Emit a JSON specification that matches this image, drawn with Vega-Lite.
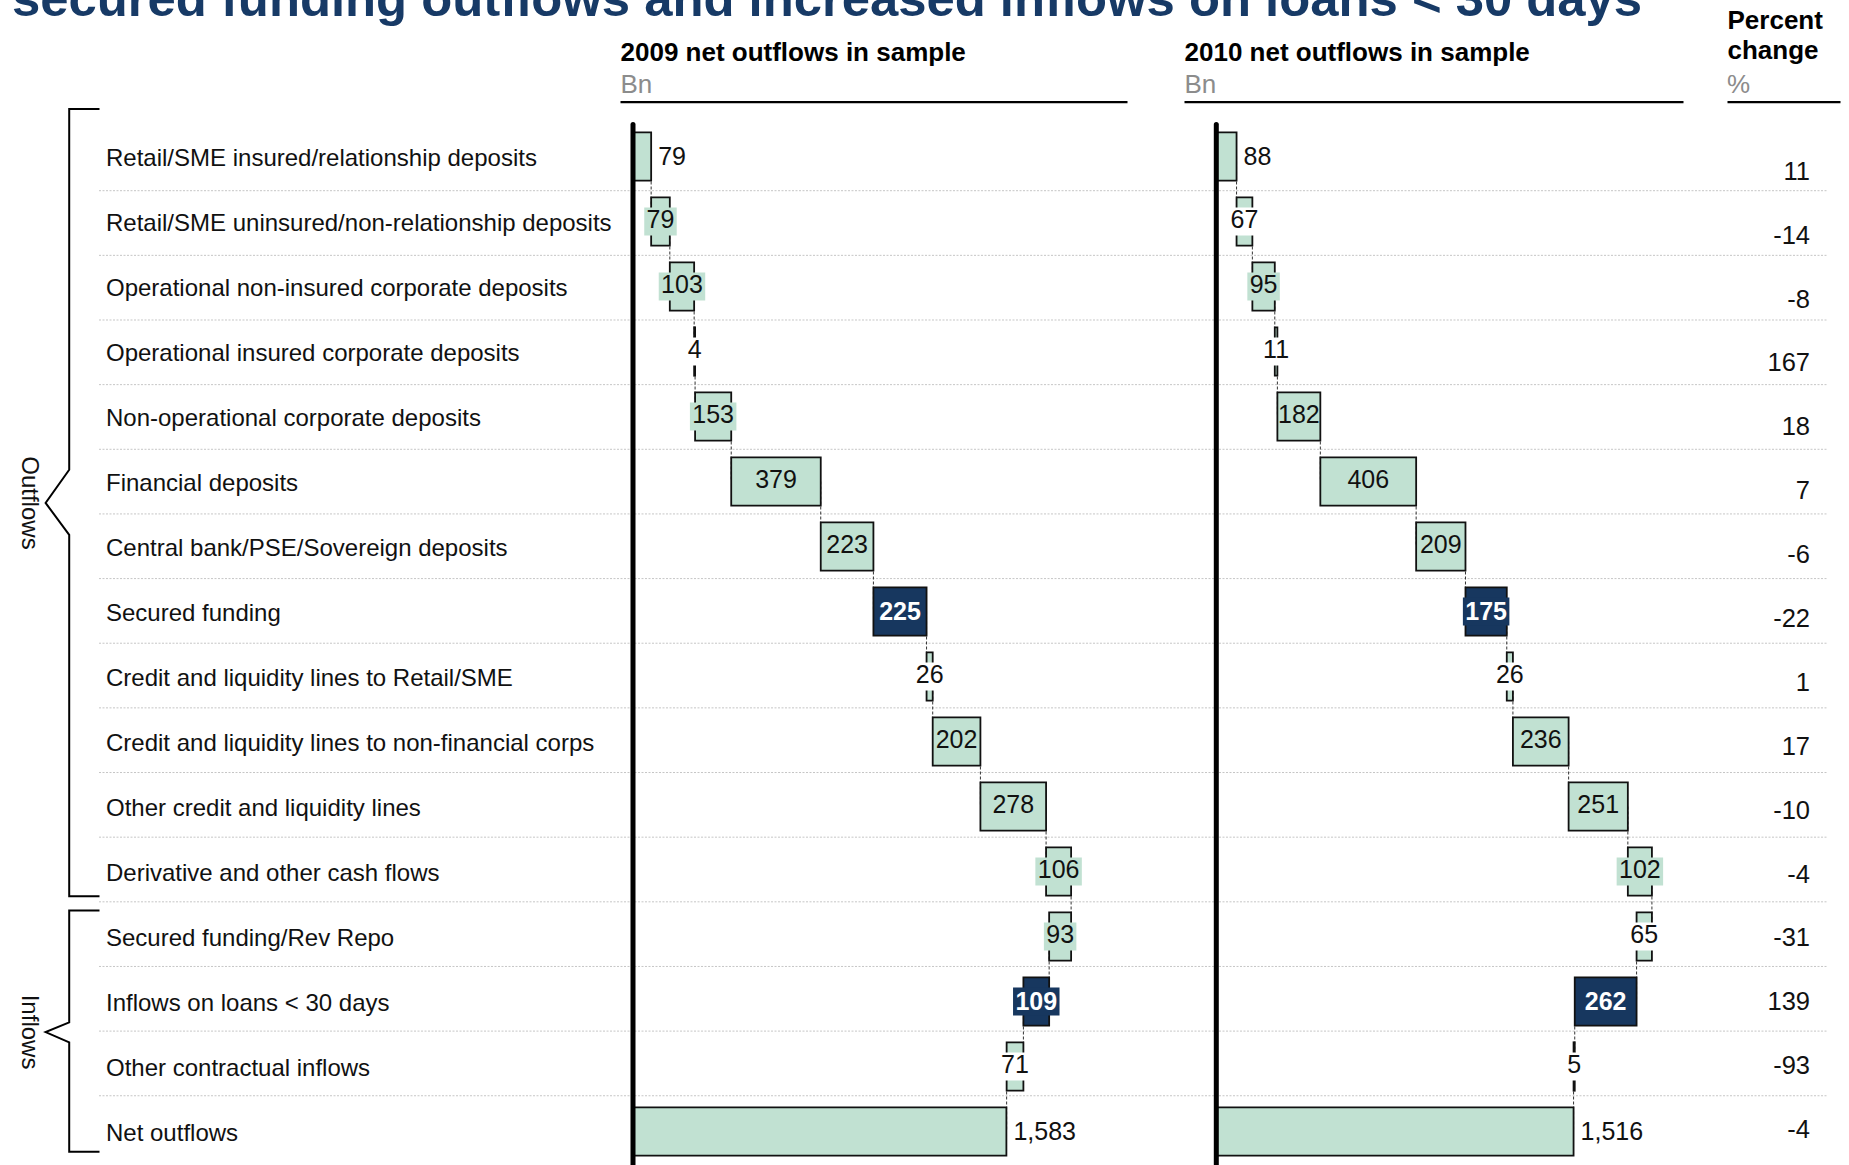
{
  "$schema": "https://vega.github.io/schema/vega-lite/v6.json",
  "width": 1849,
  "height": 1165,
  "autosize": {"type": "none"},
  "padding": 0,
  "title": {
    "text": "secured funding outflows and increased inflows on loans < 30 days",
    "anchor": "start",
    "frame": "group",
    "fontSize": 50.8,
    "fontWeight": "bold",
    "font": "Liberation Sans",
    "color": "#173a66",
    "baseline": "alphabetic",
    "offset": 0,
    "dx": 12,
    "dy": 67
  },
  "config": {
    "view": {"stroke": null},
    "font": "Liberation Sans",
    "axis": {"labelFont": "Liberation Sans", "titleFont": "Liberation Sans"},
    "text": {"font": "Liberation Sans"}
  },
  "data": {
    "values": [
      {"cat": "Retail/SME insured/relationship deposits", "flow": "Outflows", "v09": 79, "from09": 0, "to09": 79, "v10": 88, "from10": 0, "to10": 88, "pct": 11, "focus": false},
      {"cat": "Retail/SME uninsured/non-relationship deposits", "flow": "Outflows", "v09": 79, "from09": 79, "to09": 158, "v10": 67, "from10": 88, "to10": 155, "pct": -14, "focus": false},
      {"cat": "Operational non-insured corporate deposits", "flow": "Outflows", "v09": 103, "from09": 158, "to09": 261, "v10": 95, "from10": 155, "to10": 250, "pct": -8, "focus": false},
      {"cat": "Operational insured corporate deposits", "flow": "Outflows", "v09": 4, "from09": 261, "to09": 265, "v10": 11, "from10": 250, "to10": 261, "pct": 167, "focus": false},
      {"cat": "Non-operational corporate deposits", "flow": "Outflows", "v09": 153, "from09": 265, "to09": 418, "v10": 182, "from10": 261, "to10": 443, "pct": 18, "focus": false},
      {"cat": "Financial deposits", "flow": "Outflows", "v09": 379, "from09": 418, "to09": 797, "v10": 406, "from10": 443, "to10": 849, "pct": 7, "focus": false},
      {"cat": "Central bank/PSE/Sovereign deposits", "flow": "Outflows", "v09": 223, "from09": 797, "to09": 1020, "v10": 209, "from10": 849, "to10": 1058, "pct": -6, "focus": false},
      {"cat": "Secured funding", "flow": "Outflows", "v09": 225, "from09": 1020, "to09": 1245, "v10": 175, "from10": 1058, "to10": 1233, "pct": -22, "focus": true},
      {"cat": "Credit and liquidity lines to Retail/SME", "flow": "Outflows", "v09": 26, "from09": 1245, "to09": 1271, "v10": 26, "from10": 1233, "to10": 1259, "pct": 1, "focus": false},
      {"cat": "Credit and liquidity lines to non-financial corps", "flow": "Outflows", "v09": 202, "from09": 1271, "to09": 1473, "v10": 236, "from10": 1259, "to10": 1495, "pct": 17, "focus": false},
      {"cat": "Other credit and liquidity lines", "flow": "Outflows", "v09": 278, "from09": 1473, "to09": 1751, "v10": 251, "from10": 1495, "to10": 1746, "pct": -10, "focus": false},
      {"cat": "Derivative and other cash flows", "flow": "Outflows", "v09": 106, "from09": 1751, "to09": 1857, "v10": 102, "from10": 1746, "to10": 1848, "pct": -4, "focus": false},
      {"cat": "Secured funding/Rev Repo", "flow": "Inflows", "v09": 93, "from09": 1857, "to09": 1764, "v10": 65, "from10": 1848, "to10": 1783, "pct": -31, "focus": false},
      {"cat": "Inflows on loans < 30 days", "flow": "Inflows", "v09": 109, "from09": 1764, "to09": 1655, "v10": 262, "from10": 1783, "to10": 1521, "pct": 139, "focus": true},
      {"cat": "Other contractual inflows", "flow": "Inflows", "v09": 71, "from09": 1655, "to09": 1584, "v10": 5, "from10": 1521, "to10": 1516, "pct": -93, "focus": false},
      {"cat": "Net outflows", "flow": "Net", "v09": 1583, "from09": 0, "to09": 1583, "v10": 1516, "from10": 0, "to10": 1516, "pct": -4, "focus": false}
    ]
  },
  "layer": [
    {
      "transform": [{"filter": "datum.cat != 'Retail/SME insured/relationship deposits'"}],
      "mark": {"type": "rule", "color": "#c6c6c6", "strokeWidth": 1, "strokeDash": [2, 1.5]},
      "encoding": {
        "x": {"datum": 0, "type": "quantitative", "scale": {"domain": [0, 1], "range": [99, 1828], "nice": false, "zero": false}, "axis": null},
        "x2": {"datum": 1},
        "y": {
          "field": "cat", "type": "nominal", "bandPosition": 0,
          "scale": {"type": "band", "domain": ["Retail/SME uninsured/non-relationship deposits", "Operational non-insured corporate deposits", "Operational insured corporate deposits", "Non-operational corporate deposits", "Financial deposits", "Central bank/PSE/Sovereign deposits", "Secured funding", "Credit and liquidity lines to Retail/SME", "Credit and liquidity lines to non-financial corps", "Other credit and liquidity lines", "Derivative and other cash flows", "Secured funding/Rev Repo", "Inflows on loans < 30 days", "Other contractual inflows", "Net outflows"], "range": [190.7, 1160.4], "paddingInner": 0, "paddingOuter": 0},
          "axis": null
        }
      }
    },
    {
      "encoding": {
        "y": {
          "field": "cat", "type": "nominal",
          "scale": {"type": "band", "domain": ["Retail/SME insured/relationship deposits", "Retail/SME uninsured/non-relationship deposits", "Operational non-insured corporate deposits", "Operational insured corporate deposits", "Non-operational corporate deposits", "Financial deposits", "Central bank/PSE/Sovereign deposits", "Secured funding", "Credit and liquidity lines to Retail/SME", "Credit and liquidity lines to non-financial corps", "Other credit and liquidity lines", "Derivative and other cash flows", "Secured funding/Rev Repo", "Inflows on loans < 30 days", "Other contractual inflows", "Net outflows"], "range": [124, 1164], "paddingInner": 0.255, "paddingOuter": 0.1275},
          "axis": {"orient": "left", "offset": -632.5, "zindex": 1, "domain": true, "domainColor": "#000000", "domainWidth": 5, "domainCap": "round", "ticks": false, "tickSize": 0, "labelPadding": 527, "labelOffset": 2.4, "labelAlign": "left", "labelBaseline": "middle", "labelFontSize": 24, "labelColor": "#111111", "labelLimit": 0, "labelBound": false, "labelOverlap": false, "grid": false, "title": null}
        }
      },
      "layer": [
        {
          "transform": [{"window": [{"op": "lead", "field": "cat", "as": "nextcat"}]}, {"filter": "datum.nextcat != null"}],
          "mark": {"type": "rule", "color": "#333333", "strokeWidth": 1, "strokeDash": [3, 2]},
          "encoding": {
            "x": {"field": "to09", "type": "quantitative"},
            "y2": {"field": "nextcat"}
          }
        },
        {
          "mark": {"type": "bar", "stroke": "#111111", "strokeWidth": 1.8},
          "encoding": {
            "x": {
              "field": "from09", "type": "quantitative",
              "scale": {"domain": [-52.9, 2093.6], "range": [620, 1127], "nice": false, "zero": false},
              "axis": {"orient": "top", "offset": -101.7, "values": [-52.9], "labelExpr": "'Bn'", "labelAlign": "left", "labelBaseline": "alphabetic", "labelPadding": 9.4, "labelFontSize": 26, "labelColor": "#8c8c8c", "labelFlush": false, "labelBound": false, "labelOverlap": false, "labelAngle": 0, "ticks": false, "tickSize": 0, "grid": false, "domain": true, "domainColor": "#000000", "domainWidth": 2.2, "title": "2009 net outflows in sample", "titleFontSize": 26, "titleFontWeight": "bold", "titleColor": "#000000", "titleAnchor": "start", "titleAlign": "left", "titleBaseline": "alphabetic", "titleY": -41}
            },
            "x2": {"field": "to09"},
            "fill": {"condition": {"test": "datum.focus", "value": "#17375f"}, "value": "#c1e1d2"}
          }
        },
        {
          "transform": [
            {"filter": "datum.from09 > 0"},
            {"fold": ["from09", "to09"], "as": ["edge", "pos"]},
            {"aggregate": [{"op": "mean", "field": "pos", "as": "mid"}], "groupby": ["cat", "v09", "focus"]}
          ],
          "layer": [
            {
              "transform": [{"filter": "datum.v09 < 180"}],
              "mark": {"type": "point", "filled": true, "opacity": 1, "strokeWidth": 0, "size": 784},
              "encoding": {
                "x": {"field": "mid", "type": "quantitative"},
                "shape": {"condition": [{"test": "datum.v09 >= 100", "value": "M-1.66,-1H1.66V1H-1.66Z"}, {"test": "datum.v09 >= 10", "value": "M-1.16,-1H1.16V1H-1.16Z"}], "value": "M-0.7,-1H0.7V1H-0.7Z"},
                "fill": {"condition": [{"test": "datum.v09 < 75", "value": "#ffffff"}, {"test": "datum.focus", "value": "#17375f"}], "value": "#c1e1d2"}
              }
            },
            {
              "transform": [{"filter": "!datum.focus"}],
              "mark": {"type": "text", "fontSize": 25, "color": "#111111", "align": "center", "baseline": "middle", "dy": -1.5},
              "encoding": {
                "x": {"field": "mid", "type": "quantitative"},
                "text": {"field": "v09", "type": "quantitative", "format": ",d"}
              }
            },
            {
              "transform": [{"filter": "datum.focus"}],
              "mark": {"type": "text", "fontSize": 25, "fontWeight": "bold", "color": "#ffffff", "align": "center", "baseline": "middle"},
              "encoding": {
                "x": {"field": "mid", "type": "quantitative"},
                "text": {"field": "v09", "type": "quantitative", "format": ",d"}
              }
            }
          ]
        },
        {
          "transform": [{"filter": "datum.from09 == 0"}],
          "mark": {"type": "text", "fontSize": 25, "color": "#111111", "align": "left", "baseline": "middle", "dx": 7},
          "encoding": {
            "x": {"field": "to09", "type": "quantitative"},
            "text": {"field": "v09", "type": "quantitative", "format": ",d"}
          }
        }
      ]
    },
    {
      "encoding": {
        "y": {
          "field": "cat", "type": "nominal",
          "scale": {"type": "band", "domain": ["Retail/SME insured/relationship deposits", "Retail/SME uninsured/non-relationship deposits", "Operational non-insured corporate deposits", "Operational insured corporate deposits", "Non-operational corporate deposits", "Financial deposits", "Central bank/PSE/Sovereign deposits", "Secured funding", "Credit and liquidity lines to Retail/SME", "Credit and liquidity lines to non-financial corps", "Other credit and liquidity lines", "Derivative and other cash flows", "Secured funding/Rev Repo", "Inflows on loans < 30 days", "Other contractual inflows", "Net outflows"], "range": [124, 1164], "paddingInner": 0.255, "paddingOuter": 0.1275},
          "axis": {"orient": "left", "offset": -1215.8, "zindex": 1, "domain": true, "domainColor": "#000000", "domainWidth": 5, "domainCap": "round", "ticks": false, "labels": false, "grid": false, "title": null}
        }
      },
      "layer": [
        {
          "transform": [{"window": [{"op": "lead", "field": "cat", "as": "nextcat"}]}, {"filter": "datum.nextcat != null"}],
          "mark": {"type": "rule", "color": "#333333", "strokeWidth": 1, "strokeDash": [3, 2]},
          "encoding": {
            "x": {"field": "to10", "type": "quantitative"},
            "y2": {"field": "nextcat"}
          }
        },
        {
          "mark": {"type": "bar", "stroke": "#111111", "strokeWidth": 1.8},
          "encoding": {
            "x": {
              "field": "from10", "type": "quantitative",
              "scale": {"domain": [-134.7, 1979.7], "range": [1184, 1683], "nice": false, "zero": false},
              "axis": {"orient": "top", "offset": -101.7, "values": [-134.7], "labelExpr": "'Bn'", "labelAlign": "left", "labelBaseline": "alphabetic", "labelPadding": 9.4, "labelFontSize": 26, "labelColor": "#8c8c8c", "labelFlush": false, "labelBound": false, "labelOverlap": false, "labelAngle": 0, "ticks": false, "tickSize": 0, "grid": false, "domain": true, "domainColor": "#000000", "domainWidth": 2.2, "title": "2010 net outflows in sample", "titleFontSize": 26, "titleFontWeight": "bold", "titleColor": "#000000", "titleAnchor": "start", "titleAlign": "left", "titleBaseline": "alphabetic", "titleY": -41}
            },
            "x2": {"field": "to10"},
            "fill": {"condition": {"test": "datum.focus", "value": "#17375f"}, "value": "#c1e1d2"}
          }
        },
        {
          "transform": [
            {"filter": "datum.from10 > 0"},
            {"fold": ["from10", "to10"], "as": ["edge", "pos"]},
            {"aggregate": [{"op": "mean", "field": "pos", "as": "mid"}], "groupby": ["cat", "v10", "focus"]}
          ],
          "layer": [
            {
              "transform": [{"filter": "datum.v10 < 180"}],
              "mark": {"type": "point", "filled": true, "opacity": 1, "strokeWidth": 0, "size": 784},
              "encoding": {
                "x": {"field": "mid", "type": "quantitative"},
                "shape": {"condition": [{"test": "datum.v10 >= 100", "value": "M-1.66,-1H1.66V1H-1.66Z"}, {"test": "datum.v10 >= 10", "value": "M-1.16,-1H1.16V1H-1.16Z"}], "value": "M-0.7,-1H0.7V1H-0.7Z"},
                "fill": {"condition": [{"test": "datum.v10 < 75", "value": "#ffffff"}, {"test": "datum.focus", "value": "#17375f"}], "value": "#c1e1d2"}
              }
            },
            {
              "transform": [{"filter": "!datum.focus"}],
              "mark": {"type": "text", "fontSize": 25, "color": "#111111", "align": "center", "baseline": "middle", "dy": -1.5},
              "encoding": {
                "x": {"field": "mid", "type": "quantitative"},
                "text": {"field": "v10", "type": "quantitative", "format": ",d"}
              }
            },
            {
              "transform": [{"filter": "datum.focus"}],
              "mark": {"type": "text", "fontSize": 25, "fontWeight": "bold", "color": "#ffffff", "align": "center", "baseline": "middle"},
              "encoding": {
                "x": {"field": "mid", "type": "quantitative"},
                "text": {"field": "v10", "type": "quantitative", "format": ",d"}
              }
            }
          ]
        },
        {
          "transform": [{"filter": "datum.from10 == 0"}],
          "mark": {"type": "text", "fontSize": 25, "color": "#111111", "align": "left", "baseline": "middle", "dx": 7},
          "encoding": {
            "x": {"field": "to10", "type": "quantitative"},
            "text": {"field": "v10", "type": "quantitative", "format": ",d"}
          }
        }
      ]
    },
    {
      "mark": {"type": "text", "fontSize": 25.5, "color": "#111111", "align": "right", "baseline": "middle", "dx": 26.5},
      "encoding": {
        "x": {
          "datum": "Percent change", "type": "nominal",
          "scale": {"type": "band", "domain": ["Percent change"], "range": [1727, 1840], "paddingInner": 0, "paddingOuter": 0},
          "axis": {"orient": "top", "offset": -101.7, "labelExpr": "'%'", "labelAlign": "left", "labelOffset": -56.5, "labelBaseline": "alphabetic", "labelPadding": 9, "labelFontSize": 26, "labelColor": "#8c8c8c", "labelAngle": 0, "labelBound": false, "labelOverlap": false, "ticks": false, "tickSize": 0, "grid": false, "domain": true, "domainColor": "#000000", "domainWidth": 2.2, "title": ["Percent", "change"], "titleFontSize": 26, "titleFontWeight": "bold", "titleColor": "#000000", "titleAnchor": "start", "titleAlign": "left", "titleBaseline": "alphabetic", "titleLineHeight": 29.5, "titleY": -73}
        },
        "y": {
          "field": "cat", "type": "nominal",
          "scale": {"type": "band", "domain": ["Retail/SME insured/relationship deposits", "Retail/SME uninsured/non-relationship deposits", "Operational non-insured corporate deposits", "Operational insured corporate deposits", "Non-operational corporate deposits", "Financial deposits", "Central bank/PSE/Sovereign deposits", "Secured funding", "Credit and liquidity lines to Retail/SME", "Credit and liquidity lines to non-financial corps", "Other credit and liquidity lines", "Derivative and other cash flows", "Secured funding/Rev Repo", "Inflows on loans < 30 days", "Other contractual inflows", "Net outflows"], "range": [139.8, 1162], "paddingInner": 0, "paddingOuter": 0},
          "axis": null
        },
        "text": {"field": "pct", "type": "nominal"}
      }
    },
    {
      "data": {
        "values": [
          {"flow": "Outflows", "seq": 1, "bx": 1, "by": -0.23},
          {"flow": "Outflows", "seq": 2, "bx": 0.438, "by": -0.23},
          {"flow": "Outflows", "seq": 3, "bx": 0.438, "by": 5.32},
          {"flow": "Outflows", "seq": 4, "bx": 0, "by": 5.83},
          {"flow": "Outflows", "seq": 5, "bx": 0.438, "by": 6.32},
          {"flow": "Outflows", "seq": 6, "bx": 0.438, "by": 11.88},
          {"flow": "Outflows", "seq": 7, "bx": 1, "by": 11.88},
          {"flow": "Inflows", "seq": 1, "bx": 1, "by": 12.1},
          {"flow": "Inflows", "seq": 2, "bx": 0.438, "by": 12.1},
          {"flow": "Inflows", "seq": 3, "bx": 0.438, "by": 13.82},
          {"flow": "Inflows", "seq": 4, "bx": 0, "by": 13.97},
          {"flow": "Inflows", "seq": 5, "bx": 0.438, "by": 14.13},
          {"flow": "Inflows", "seq": 6, "bx": 0.438, "by": 15.81},
          {"flow": "Inflows", "seq": 7, "bx": 1, "by": 15.81}
        ]
      },
      "encoding": {
        "x": {"field": "bx", "type": "quantitative", "scale": {"domain": [0, 1], "range": [45.6, 99.5], "nice": false, "zero": false}, "axis": null},
        "y": {"field": "by", "type": "quantitative", "scale": {"domain": [0, 16], "range": [124, 1164], "nice": false, "zero": false}, "axis": null}
      },
      "layer": [
        {
          "mark": {"type": "line", "color": "#000000", "strokeWidth": 2, "strokeJoin": "miter", "strokeCap": "butt"},
          "encoding": {"detail": {"field": "flow"}, "order": {"field": "seq"}}
        },
        {
          "transform": [{"filter": "datum.bx == 0"}],
          "mark": {"type": "text", "angle": 90, "fontSize": 24, "color": "#111111", "align": "center", "baseline": "middle", "dy": 16.5},
          "encoding": {"text": {"field": "flow"}}
        }
      ]
    }
  ],
  "resolve": {"scale": {"x": "independent", "y": "independent"}}
}
